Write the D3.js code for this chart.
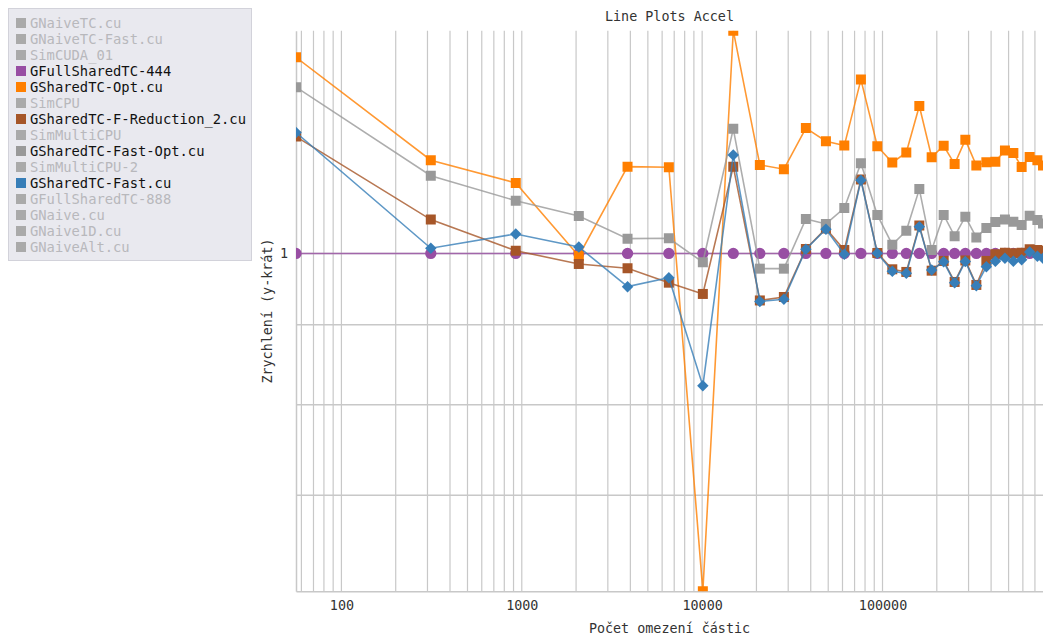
<!DOCTYPE html>
<html>
<head>
<meta charset="utf-8">
<script src="https://cdn.jsdelivr.net/npm/d3@7"></script>
<style>
  body { margin: 0; background: #fff; }
  svg text { font-family: "DejaVu Sans Mono", monospace; }
</style>
</head>
<body>
<svg id="chart" width="1043" height="640"></svg>
<script>
// Number of particle constraints (x axis, log scale)
const constraintCounts = [56, 313, 926, 2071, 3858, 6537, 10090, 14880, 20890, 28390,
  37600, 48560, 61400, 75900, 93600, 113300, 135500, 160000, 187300, 218300,
  251100, 287900, 331300, 376500, 422300, 477400, 531500, 590800, 654500, 722200, 775900];

// Speed-up relative to GFullSharedTC-444 (y axis, log scale)
const fullShared444 = [1, 1, 1, 1, 1, 1, 1, 1, 1, 1, 1, 1, 1, 1, 1, 1,
  1, 1, 1, 1, 1, 1, 1, 1, 1, 1, 1, 1, 1, 1, 1];
const sharedOpt = [1.3357, 1.1475, 1.1096, 0.9963, 1.1367, 1.1357, 0.6074, 1.3892, 1.1396, 1.1324,
  1.2032, 1.1801, 1.1725, 1.2925, 1.1715, 1.1435, 1.1607, 1.2432, 1.1527, 1.1723,
  1.1410, 1.1825, 1.1384, 1.1441, 1.1451, 1.1642, 1.1596, 1.1362, 1.1529, 1.1475, 1.1387];
const sharedFReduction2 = [1.1882, 1.0512, 1.0041, 0.9846, 0.9784, 0.9578, 0.9420, 1.1367, 0.9330, 0.9378,
  1.0067, 1.0376, 1.0052, 1.1154, 1.0007, 0.9769, 0.9731, 1.0422, 0.9749, 0.9890,
  0.9588, 0.9897, 0.9546, 0.9890, 0.9988, 1.0012, 1.0003, 1.0012, 1.0062, 1.0052, 1.0037];
const sharedFastOpt = [1.2782, 1.1215, 1.0810, 1.0569, 1.0221, 1.0227, 0.9871, 1.2019, 0.9778, 0.9778,
  1.0522, 1.0445, 1.0694, 1.1425, 1.0585, 1.0131, 1.0341, 1.0996, 1.0052, 1.0585,
  1.0259, 1.0557, 1.0239, 1.0384, 1.0476, 1.0515, 1.0480, 1.0430, 1.0572, 1.0507, 1.0453];
const sharedFast = [1.1953, 1.0077, 1.0292, 1.0096, 0.9522, 0.9649, 0.8225, 1.1564, 0.9316, 0.9347,
  1.0062, 1.0365, 0.9990, 1.1141, 1.0003, 0.9741, 0.9712, 1.0402, 0.9759, 0.9878,
  0.9578, 0.9883, 0.9536, 0.9807, 0.9887, 0.9929, 0.9887, 0.9909, 1.0022, 0.9959, 0.9929];

// Legend entries; only some of them are switched on
const legendNames = ["GNaiveTC.cu", "GNaiveTC-Fast.cu", "SimCUDA_01", "GFullSharedTC-444",
  "GSharedTC-Opt.cu", "SimCPU", "GSharedTC-F-Reduction_2.cu", "SimMultiCPU",
  "GSharedTC-Fast-Opt.cu", "SimMultiCPU-2", "GSharedTC-Fast.cu", "GFullSharedTC-888",
  "GNaive.cu", "GNaive1D.cu", "GNaiveAlt.cu"];
const legendActive = ["GFullSharedTC-444", "GSharedTC-Opt.cu", "GSharedTC-F-Reduction_2.cu",
  "GSharedTC-Fast-Opt.cu", "GSharedTC-Fast.cu"];
const legendColors = ["#984ea3", "#ff7f00", "#a65628", "#999999", "#377eb8"];

const xTickLabels = [100, 1000, 10000, 100000];
const yGridValues = [0.7, 0.8, 0.9, 1];
const yTickLabels = [1];

const chartTitle = "Line Plots Accel";
const xTitle = "Počet omezení částic";
const yTitle = "Zrychlení (y-krát)";

const series = [
  { name: "GFullSharedTC-444", values: fullShared444, color: "#984ea3", shape: "circle" },
  { name: "GSharedTC-Opt.cu", values: sharedOpt, color: "#ff7f00", shape: "square" },
  { name: "GSharedTC-F-Reduction_2.cu", values: sharedFReduction2, color: "#a65628", shape: "square" },
  { name: "GSharedTC-Fast-Opt.cu", values: sharedFastOpt, color: "#999999", shape: "square" },
  { name: "GSharedTC-Fast.cu", values: sharedFast, color: "#377eb8", shape: "diamond" }
];

const svg = d3.select("#chart");
const plot = { left: 296, right: 1043, top: 30.7, bottom: 591.3 };

const x = d3.scaleLog()
  .domain(d3.extent(constraintCounts))
  .range([plot.left, plot.right]);
const allY = series.flatMap(s => s.values);
const y = d3.scaleLog()
  .domain(d3.extent(allY))
  .range([plot.bottom, plot.top]);

// Grid
const grid = svg.append("g").attr("class", "grid");
const xGridTicks = x.ticks(40).filter(t => t > x.domain()[0] && t < x.domain()[1]);
grid.selectAll("line.vx").data(xGridTicks).join("line")
  .attr("x1", d => x(d)).attr("x2", d => x(d))
  .attr("y1", plot.top).attr("y2", plot.bottom)
  .attr("stroke", "#c8c8c8").attr("stroke-width", 1.2);
grid.selectAll("line.hy").data(yGridValues).join("line")
  .attr("x1", plot.left).attr("x2", plot.right)
  .attr("y1", d => y(d)).attr("y2", d => y(d))
  .attr("stroke", "#c8c8c8").attr("stroke-width", 1.5);

// Axes
const xAxis = d3.axisBottom(x).tickValues(xTickLabels).tickSize(0).tickPadding(9)
  .tickFormat(d3.format("d"));
const xg = svg.append("g").attr("transform", `translate(0,${plot.bottom})`).call(xAxis);
xg.select(".domain").attr("stroke", "#c8c8c8").attr("stroke-width", 1.5);
xg.selectAll("text").attr("font-size", "13.4px").attr("fill", "#333")
  .style("font-family", "'DejaVu Sans Mono', monospace");

const yAxis = d3.axisLeft(y).tickValues(yTickLabels).tickSize(0).tickPadding(8)
  .tickFormat(d3.format("d"));
const yg = svg.append("g").attr("transform", `translate(${plot.left},0)`).call(yAxis);
yg.select(".domain").attr("stroke", "#c8c8c8").attr("stroke-width", 1.5);
yg.selectAll("text").attr("font-size", "13.4px").attr("fill", "#333")
  .style("font-family", "'DejaVu Sans Mono', monospace");

// Titles
svg.append("text").attr("x", (plot.left + plot.right) / 2).attr("y", 21)
  .attr("text-anchor", "middle").attr("font-size", "13.4px").attr("fill", "#333")
  .text(chartTitle);
svg.append("text").attr("x", (plot.left + plot.right) / 2).attr("y", 633)
  .attr("text-anchor", "middle").attr("font-size", "13.4px").attr("fill", "#333")
  .text(xTitle);
svg.append("text")
  .attr("transform", `translate(272,${(plot.top + plot.bottom) / 2}) rotate(-90)`)
  .attr("text-anchor", "middle").attr("font-size", "13.4px").attr("fill", "#333")
  .text(yTitle);

// Series
svg.append("clipPath").attr("id", "plot-clip").append("rect")
  .attr("x", plot.left).attr("y", plot.top)
  .attr("width", plot.right - plot.left).attr("height", plot.bottom - plot.top);
const marks = svg.append("g").attr("clip-path", "url(#plot-clip)");

const line = d3.line().x(d => x(d[0])).y(d => y(d[1]));
const symbolFor = {
  circle: d3.symbol(d3.symbolCircle, 100),
  square: d3.symbol(d3.symbolSquare, 100),
  diamond: d3.symbol(d3.symbolSquare, 66)
};

series.forEach(s => {
  const pts = constraintCounts.map((c, i) => [c, s.values[i]]);
  const g = marks.append("g");
  g.append("path").datum(pts)
    .attr("d", line).attr("fill", "none")
    .attr("stroke", s.color).attr("stroke-width", 1.6).attr("stroke-opacity", 0.8);
  g.selectAll("path.m").data(pts).join("path")
    .attr("class", "m")
    .attr("d", symbolFor[s.shape]())
    .attr("transform", d => `translate(${x(d[0])},${y(d[1])})` + (s.shape === "diamond" ? " rotate(45)" : ""))
    .attr("fill", s.color);
});

// Legend
const legend = svg.append("g");
legend.append("rect").attr("x", 8.5).attr("y", 8.5).attr("width", 243).attr("height", 252)
  .attr("fill", "#e9e9ef").attr("stroke", "#d2d2da");
const items = legend.selectAll("g.item").data(legendNames).join("g")
  .attr("transform", (d, i) => `translate(16,${18 + i * 16})`);
items.append("rect").attr("width", 10).attr("height", 10)
  .attr("fill", d => {
    const k = legendActive.indexOf(d);
    return k >= 0 ? legendColors[k] : "#aaaaaa";
  });
items.append("text").attr("x", 14).attr("y", 10)
  .attr("font-size", "13.8px")
  .attr("fill", d => legendActive.includes(d) ? "#111" : "#b8b8bc")
  .text(d => d);
</script>
</body>
</html>
